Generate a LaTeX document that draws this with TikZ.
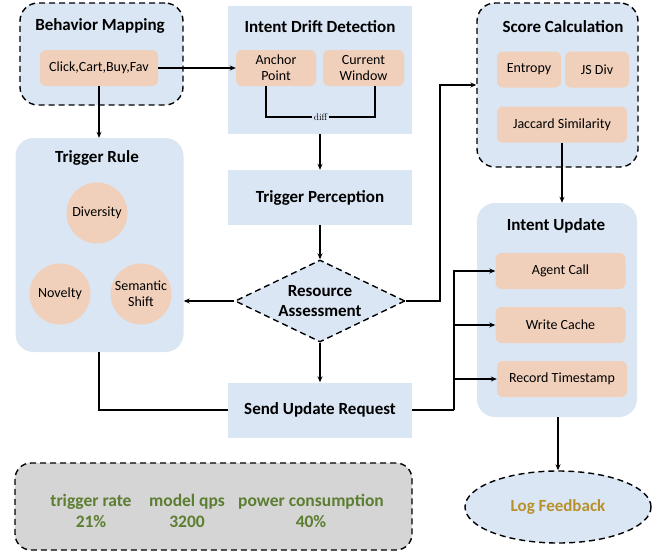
\documentclass[tikz,border=0pt]{standalone}
\usepackage{fontspec}
\setmainfont{Carlito}
\usetikzlibrary{shapes.geometric,arrows.meta}
\definecolor{cblue}{HTML}{DAE6F4}
\definecolor{corange}{HTML}{F0D0BB}
\definecolor{cgray}{HTML}{D5D5D5}
\definecolor{cgreen}{HTML}{5B7E30}
\definecolor{cgold}{HTML}{B8902C}
\tikzset{
  cont/.style={fill=cblue, rounded corners=18pt, inner sep=0pt},
  dcont/.style={cont, draw=black, line width=1.4pt, dash pattern=on 6pt off 4pt},
  plainbox/.style={fill=cblue, inner sep=0pt, font=\bfseries\fontsize{17}{20}\selectfont},
  ibox/.style={fill=corange, rounded corners=6pt, inner sep=0pt, align=center, font=\fontsize{14}{16}\selectfont},
  circ/.style={circle, fill=corange, inner sep=0pt, minimum size=61pt, align=center, font=\fontsize{14}{16}\selectfont},
  ttl/.style={font=\bfseries\fontsize{17}{20}\selectfont, inner sep=0pt},
  conn/.style={line width=1.2pt},
  arr/.style={conn, -{Stealth[length=6pt,width=5pt]}},
  metric/.style={text=cgreen, align=center, font=\bfseries\fontsize{17.5}{20.5}\selectfont}
}
\begin{document}
\begin{tikzpicture}[x=1pt,y=-1pt]
\useasboundingbox (0,0) rectangle (670,554);
% Behavior Mapping
\node[dcont, minimum width=163pt, minimum height=102pt] (bm) at (101.5,54) {};
\node[ttl] (bmt) at (100,26) {Behavior Mapping};
\node[ibox, minimum width=118pt, minimum height=36pt] (click) at (99,68) {Click,Cart,Buy,Fav};
% Intent Drift Detection
\node[plainbox, minimum width=184pt, minimum height=128pt] (idd) at (320,70) {};
\node[ttl] (iddt) at (320,27) {Intent Drift Detection};
\node[ibox, minimum width=80pt, minimum height=36pt] (anchor) at (276,68) {Anchor\\Point};
\node[ibox, minimum width=81pt, minimum height=36pt] (current) at (363.5,68) {Current\\Window};
\node[fill=cblue, inner sep=1.5pt, font=\fontfamily{lmr}\selectfont\fontsize{9.5}{10}\selectfont] (diff) at (320.5,117) {diff};
\draw[conn] ([xshift=-10pt]anchor.south) |- (diff.west);
\draw[conn] ([xshift=11.5pt]current.south) |- (diff.east);
% Trigger Perception
\node[plainbox, minimum width=184pt, minimum height=55pt] (tp) at (320,197.5) {Trigger Perception};
% Resource Assessment
\node[diamond, fill=cblue, draw=black, line width=1.4pt, dash pattern=on 6pt off 4pt, minimum width=170pt, minimum height=82pt, aspect=2.07, inner sep=0pt, align=center, font=\bfseries\fontsize{17}{20}\selectfont] (ra) at (320,301) {Resource\\Assessment};
% Send Update Request
\node[plainbox, minimum width=184pt, minimum height=55pt] (sur) at (320,410) {Send Update Request};
% Trigger Rule
\node[cont, minimum width=168pt, minimum height=214pt] (tr) at (99.5,245) {};
\node[ttl] (trt) at (97,158) {Trigger Rule};
\node[circ] (div) at (97,213) {Diversity};
\node[circ] (nov) at (60,294) {Novelty};
\node[circ] (sem) at (141,294) {Semantic\\Shift};
% Score Calculation
\node[dcont, minimum width=161pt, minimum height=164pt] (sc) at (557.5,85) {};
\node[ttl] (sct) at (563,27) {Score Calculation};
\node[ibox, minimum width=64pt, minimum height=36pt] (ent) at (529,69.5) {Entropy};
\node[ibox, minimum width=64pt, minimum height=36pt] (js) at (597,69.5) {JS Div};
\node[ibox, minimum width=130pt, minimum height=36pt] (jac) at (562,124.5) {Jaccard Similarity};
% Intent Update
\node[cont, minimum width=160pt, minimum height=214pt] (iu) at (557,310) {};
\node[ttl] (iut) at (556,226) {Intent Update};
\node[ibox, minimum width=130pt, minimum height=36pt] (agent) at (560.5,271) {Agent Call};
\node[ibox, minimum width=130pt, minimum height=36pt] (write) at (560.5,325) {Write Cache};
\node[ibox, minimum width=130pt, minimum height=36pt] (record) at (562,379) {Record Timestamp};
% Log Feedback
\node[ellipse, fill=cblue, draw=black, line width=1.4pt, dash pattern=on 6pt off 4pt, minimum width=186pt, minimum height=72pt, inner sep=0pt, text=cgold, font=\bfseries\fontsize{17}{20}\selectfont] (log) at (558,507) {Log Feedback};
% Metrics
\node[fill=cgray, draw=black, line width=1.4pt, dash pattern=on 6pt off 4pt, rounded corners=16pt, minimum width=397pt, minimum height=87pt, inner sep=0pt] (gray) at (213.5,506.5) {};
\node[metric] (m1) at (91,511) {trigger rate\\21\%};
\node[metric] (m2) at (187,511) {model qps\\3200};
\node[metric] (m3) at (311,511) {power consumption\\40\%};
% connectors
\draw[arr] (click.east) -- (anchor.west);
\draw[arr] (click.south) -- (click.south |- tr.north);
\draw[arr] (idd.south) -- (tp.north);
\draw[arr] (tp.south) -- (ra.north);
\draw[arr] (ra.west) -- (ra.west -| tr.east);
\coordinate (rj) at (440,301);
\draw[arr] (ra.east) -- (rj) |- (sc.west);
\draw[arr] (ra.south) -- (sur.north);
\draw[conn] (click.south |- tr.south) |- (sur.west);
\coordinate (sj) at (454,410);
\draw[conn] (sur.east) -- (sj);
\draw[arr] (sj) |- (agent.west);
\draw[arr] (sj) |- (write.west);
\draw[arr] (sj) |- (record.west);
\draw[arr] (jac.south) -- (jac.south |- iu.north);
\draw[arr] (log.north |- iu.south) -- (log.north);
\end{tikzpicture}
\end{document}
